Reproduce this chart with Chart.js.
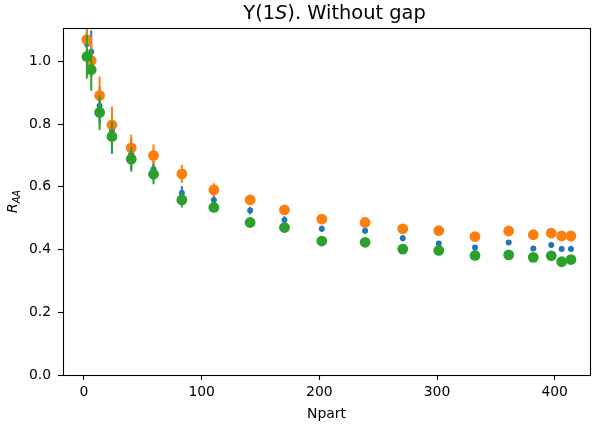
<!DOCTYPE html>
<html>
<head>
<meta charset="utf-8">
<script src="https://cdn.jsdelivr.net/npm/chart.js@4/dist/chart.umd.min.js"></script>
<style>
html,body{margin:0;padding:0;background:#fff;}
#c{display:block;}
</style>
</head>
<body>
<canvas id="c" width="601" height="425"></canvas>
<script>
// ---- data ----
const npart = [2.5, 6.2, 13.3, 23.8, 40.2, 59.1, 83.2, 110.4, 141.2, 170.4, 202.1, 238.9, 270.9, 301.5, 332.3, 360.9, 381.8, 397.1, 405.9, 413.8];

const raaBlue = [1.055, 1.030, 0.858, 0.780, 0.705, 0.656, 0.580, 0.558, 0.524, 0.494, 0.466, 0.460, 0.436, 0.419, 0.406, 0.422, 0.403, 0.414, 0.402, 0.402];
const errBlue = [0.050, 0.068, 0.060, 0.075, 0.050, 0.035, 0.022, 0.015, 0.012, 0.012, 0.010, 0.010, 0.010, 0.008, 0.008, 0.008, 0.008, 0.008, 0.008, 0.008];

const raaOrange = [1.069, 1.002, 0.891, 0.797, 0.724, 0.700, 0.641, 0.590, 0.558, 0.526, 0.497, 0.486, 0.466, 0.460, 0.441, 0.459, 0.447, 0.452, 0.443, 0.443];
const errOrange = [0.060, 0.055, 0.060, 0.057, 0.042, 0.035, 0.029, 0.021, 0.015, 0.012, 0.010, 0.010, 0.010, 0.008, 0.008, 0.008, 0.008, 0.008, 0.008, 0.008];

const raaGreen = [1.015, 0.973, 0.837, 0.760, 0.688, 0.640, 0.558, 0.534, 0.486, 0.470, 0.427, 0.423, 0.401, 0.397, 0.381, 0.383, 0.375, 0.380, 0.361, 0.368];
const errGreen = [0.070, 0.067, 0.056, 0.048, 0.040, 0.032, 0.024, 0.015, 0.012, 0.010, 0.010, 0.010, 0.010, 0.008, 0.008, 0.008, 0.008, 0.008, 0.008, 0.008];

const xTicks = [0, 100, 200, 300, 400];
const yTicks = [0.0, 0.2, 0.4, 0.6, 0.8, 1.0];

const titleMain = "Υ(1";
const titleItalic = "S";
const titleRest = "). Without gap";
const yLabelMain = "R";
const yLabelSub = "AA";
const xLabel = "Npart";

const FONT = "'DejaVu Sans', sans-serif";

function toPoints(xs, ys) { return xs.map((x, i) => ({x: x, y: ys[i]})); }

const errorSets = [errBlue, errOrange, errGreen];

const errorBarPlugin = {
  id: 'errorBars',
  beforeDatasetDraw(chart, args) {
    const errs = errorSets[args.index];
    if (!errs) return;
    const ds = chart.data.datasets[args.index];
    const xs = chart.scales.x, ys = chart.scales.y;
    const ctx = chart.ctx;
    const a = chart.chartArea;
    ctx.save();
    ctx.beginPath();
    ctx.rect(a.left, a.top, a.right - a.left, a.bottom - a.top);
    ctx.clip();
    ctx.strokeStyle = ds.borderColor;
    ctx.lineWidth = 2;
    ds.data.forEach((p, i) => {
      const px = xs.getPixelForValue(p.x);
      ctx.beginPath();
      ctx.moveTo(px, ys.getPixelForValue(p.y - errs[i]));
      ctx.lineTo(px, ys.getPixelForValue(p.y + errs[i]));
      ctx.stroke();
    });
    ctx.restore();
  }
};

const framePlugin = {
  id: 'frameAndText',
  afterDraw(chart) {
    const ctx = chart.ctx;
    const a = chart.chartArea;
    ctx.save();
    ctx.strokeStyle = '#000';
    ctx.lineWidth = 1.1;
    ctx.strokeRect(Math.round(a.left) + 0.5, Math.round(a.top) + 0.5,
                   Math.round(a.right - a.left), Math.round(a.bottom - a.top));
    // title with italic S
    ctx.fillStyle = '#000';
    ctx.textBaseline = 'alphabetic';
    const fN = "19.4px " + FONT, fI = "italic 19.4px " + FONT;
    ctx.font = fN; const w1 = ctx.measureText(titleMain).width;
    ctx.font = fI; const w2 = ctx.measureText(titleItalic).width;
    ctx.font = fN; const w3 = ctx.measureText(titleRest).width;
    let x = (a.left + a.right) / 2 + 8 - (w1 + w2 + w3) / 2;
    const by = 19;
    ctx.font = fN; ctx.fillText(titleMain, x, by); x += w1;
    ctx.font = fI; ctx.fillText(titleItalic, x, by); x += w2;
    ctx.font = fN; ctx.fillText(titleRest, x, by);
    // y label R_AA
    const fR = "italic 13.9px " + FONT, fS = "italic 9.7px " + FONT;
    ctx.font = fR; const wr = ctx.measureText(yLabelMain).width;
    ctx.font = fS; const ws = ctx.measureText(yLabelSub).width;
    ctx.translate(17, (a.top + a.bottom) / 2);
    ctx.rotate(-Math.PI / 2);
    let lx = -(wr + ws) / 2;
    ctx.font = fR; ctx.fillText(yLabelMain, lx, 0);
    ctx.font = fS; ctx.fillText(yLabelSub, lx + wr, 2.6);
    ctx.restore();
  }
};

const tickFont = {family: FONT, size: 13.9};

new Chart(document.getElementById('c'), {
  type: 'scatter',
  data: {
    datasets: [
      {label: 'blue', data: toPoints(npart, raaBlue), backgroundColor: '#1f77b4', borderColor: '#1f77b4',
       pointRadius: 3, pointHoverRadius: 3, borderWidth: 0, order: 3},
      {label: 'orange', data: toPoints(npart, raaOrange), backgroundColor: '#ff7f0e', borderColor: '#ff7f0e',
       pointRadius: 5.4, pointHoverRadius: 5.4, borderWidth: 0, order: 2},
      {label: 'green', data: toPoints(npart, raaGreen), backgroundColor: '#2ca02c', borderColor: '#2ca02c',
       pointRadius: 5.4, pointHoverRadius: 5.4, borderWidth: 0, order: 1}
    ]
  },
  options: {
    responsive: false,
    animation: false,
    devicePixelRatio: 1,
    layout: {padding: {top: 28, right: 11, left: 0, bottom: 0}},
    plugins: {legend: {display: false}, tooltip: {enabled: false}, title: {display: false}},
    scales: {
      x: {
        type: 'linear', min: -17.8, max: 430,
        afterBuildTicks: s => { s.ticks = xTicks.map(v => ({value: v})); },
        afterFit: s => { s.height = 50; },
        border: {display: false},
        grid: {display: true, drawOnChartArea: false, drawTicks: true, tickLength: 5, tickColor: '#000', tickWidth: 1.1},
        ticks: {font: tickFont, color: '#000', padding: 4, maxRotation: 0, autoSkip: false},
        title: {display: true, text: xLabel, font: tickFont, color: '#000', padding: {top: 0, bottom: 2}}
      },
      y: {
        type: 'linear', min: 0, max: 1.106,
        afterBuildTicks: s => { s.ticks = yTicks.map(v => ({value: v})); },
        afterFit: s => { s.width = 63; },
        border: {display: false},
        grid: {display: true, drawOnChartArea: false, drawTicks: true, tickLength: 5, tickColor: '#000', tickWidth: 1.1},
        ticks: {font: tickFont, color: '#000', padding: 7, autoSkip: false,
                callback: v => Number(v).toFixed(1)}
      }
    }
  },
  plugins: [errorBarPlugin, framePlugin]
});
</script>
</body>
</html>
